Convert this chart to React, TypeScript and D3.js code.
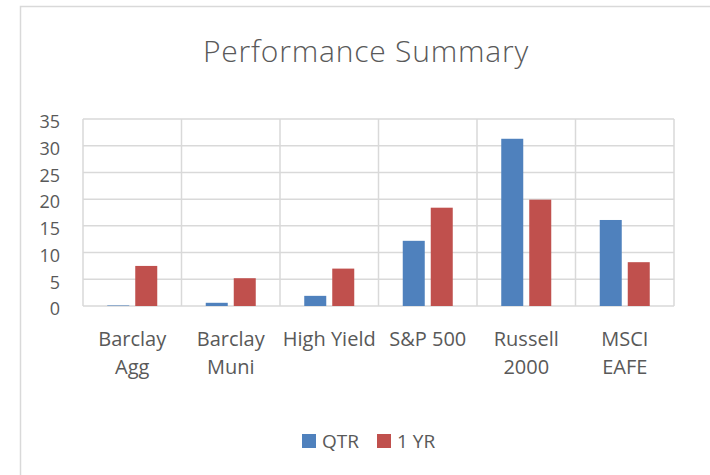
import React from 'react';
import * as d3 from 'd3';

const categories = ['Barclay Agg', 'Barclay Muni', 'High Yield', 'S&P 500', 'Russell 2000', 'MSCI EAFE'];
const labelLines = [['Barclay', 'Agg'], ['Barclay', 'Muni'], ['High Yield'], ['S&P 500'], ['Russell', '2000'], ['MSCI', 'EAFE']];
const qtrValues = [0.1, 0.6, 1.9, 12.2, 31.3, 16.1];
const yrValues = [7.5, 5.2, 7.0, 18.4, 19.9, 8.2];
const seriesNames = ['QTR', '1 YR'];
const yTicks = [0, 5, 10, 15, 20, 25, 30, 35];

const colors = ['#4F81BD', '#C0504D'];
const textColor = '#595959';
const gridColor = '#D9D9D9';
const font = '"Open Sans", sans-serif';

const App: React.FC = () => {
    const width = 710;
    const height = 475;
    const left = 83, right = 674, top = 119, bottom = 306;

    const x = d3.scaleBand<string>().domain(categories).range([left, right]);
    const y = d3.scaleLinear().domain([0, 35]).range([bottom, top]);
    const barW = 22;
    const gap = 6;

    const series = [qtrValues, yrValues];

    return (
        <svg width={width} height={height} style={{ position: 'absolute', left: 0, top: 0 }}>
            <rect x={0} y={0} width={width} height={height} fill="#fff" />
            {/* chart border */}
            <rect x={20.5} y={6.5} width={width} height={height} fill="none" stroke={gridColor} strokeWidth={1.5} />
            <text x={366} y={62} textAnchor="middle" fontFamily={font} fontWeight={300} fontSize={30} letterSpacing={0.8} fill={textColor}>
                Performance Summary
            </text>

            {/* horizontal gridlines */}
            {yTicks.map(t => (
                <line key={'h' + t} x1={left} x2={right} y1={y(t)} y2={y(t)} stroke={gridColor} strokeWidth={1.5} />
            ))}
            {/* vertical gridlines */}
            {categories.map(c => (
                <line key={'v' + c} x1={x(c)!} x2={x(c)!} y1={top} y2={bottom} stroke={gridColor} strokeWidth={1.5} />
            ))}
            <line x1={right} x2={right} y1={top} y2={bottom} stroke={gridColor} strokeWidth={1.5} />

            {/* y tick labels */}
            {yTicks.map(t => (
                <text key={'yt' + t} x={60} y={y(t) + 3} dy="0.35em" textAnchor="end" fontFamily={font} fontSize={18} fill={textColor}>
                    {t}
                </text>
            ))}

            {/* bars */}
            {series.map((vals, si) =>
                vals.map((v, i) => {
                    const cx = x(categories[i])! + x.bandwidth() / 2;
                    const bx = si === 0 ? cx - gap / 2 - barW : cx + gap / 2;
                    return (
                        <rect key={si + '-' + i} x={bx} y={y(v)} width={barW} height={y(0) - y(v)} fill={colors[si]} />
                    );
                })
            )}

            {/* x labels */}
            {labelLines.map((lines, i) => (
                <text key={'xl' + i} textAnchor="middle" fontFamily={font} fontSize={20} fill={textColor}>
                    {lines.map((ln, j) => (
                        <tspan key={j} x={x(categories[i])! + x.bandwidth() / 2} y={346 + j * 28}>{ln}</tspan>
                    ))}
                </text>
            ))}

            {/* legend */}
            {seriesNames.map((n, i) => (
                <g key={n} transform={`translate(${[302, 377][i]},434)`}>
                    <rect width={14} height={14} fill={colors[i]} />
                    <text x={20} y={14} fontFamily={font} fontSize={19} fill={textColor}>{n}</text>
                </g>
            ))}
        </svg>
    );
};

export default App;
